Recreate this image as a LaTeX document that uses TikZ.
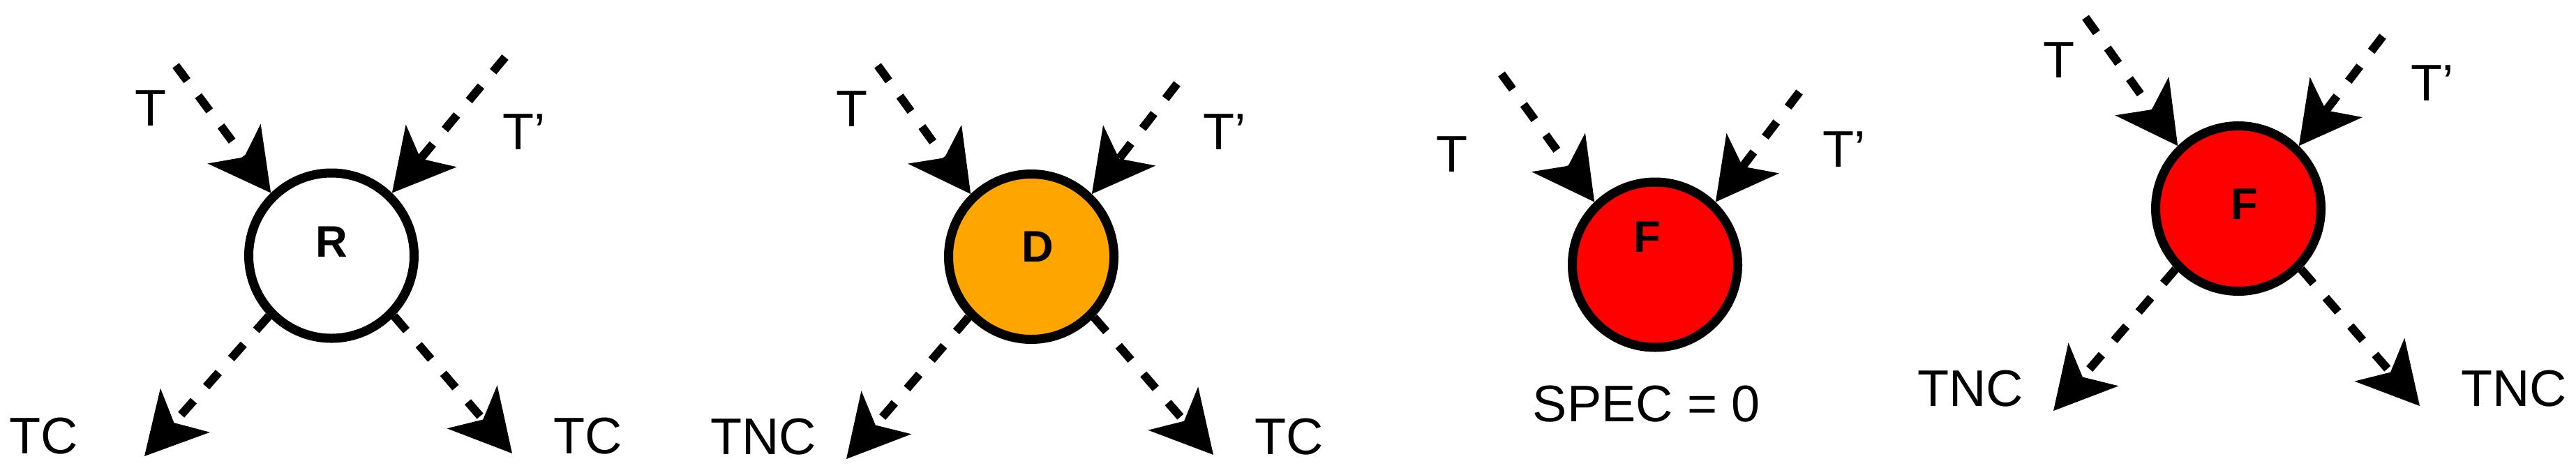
\documentclass[tikz,border=0pt]{standalone}
\usepackage{fontspec}
\setmainfont{Liberation Sans}
\usepackage{tikz}
\usetikzlibrary{arrows.meta}
\definecolor{dorange}{RGB}{255,165,0}
\definecolor{fred}{RGB}{255,0,0}

\begin{document}
\begin{tikzpicture}
			\tikzstyle{every node}=[font=\fontsize{21}{25}\selectfont]
			\tikzstyle{vertex}=[circle, draw=black, line width=0.13cm, minimum size=2.37cm, inner sep=0pt]
			\tikzstyle{letter}=[anchor=base, inner sep=0pt, font=\bfseries\fontsize{18}{22}\selectfont]
			\tikzstyle{lab}=[anchor=base, inner sep=0pt]
			\tikzstyle{flow}=[line width=0.12cm, dash pattern=on 0.27cm off 0.27cm, -{Stealth[length=0.88cm, width=0.95cm, inset=0.24cm, line width=0pt]}]
			\useasboundingbox (0,0) rectangle (36.92,6.8);
			
			% R
			\node[vertex, fill=white] (R) at (4.75,3.135) {};
			\node[letter] (lR) at (4.75,3.12) {R};
			\coordinate (inR) at (2.52,5.86);
			\coordinate (inpR) at (7.24,5.98);
			\coordinate (outlR) at (2.07,0.26);
			\coordinate (outrR) at (7.34,0.30);
			\draw [flow] (inR) -- (R.134);
			\draw [flow] (inpR) -- (R.46);
			\draw [flow] (R.224) -- (outlR);
			\draw [flow] (R.316) -- (outrR);
			\node[lab] (tR) at (2.16,5.00) {T};
			\node[lab] (tpR) at (7.51,4.66) {T’};
			\node[lab] (tclR) at (0.63,0.30) {TC};
			\node[lab] (tcrR) at (8.43,0.30) {TC};
			
			% D
			\node[vertex, fill=dorange] (D) at (14.78,3.12) {};
			\node[letter] (lD) at (14.87,3.05) {D};
			\coordinate (inD) at (12.58,5.86);
			\coordinate (inpD) at (16.87,5.60);
			\coordinate (outlD) at (12.13,0.22);
			\coordinate (outrD) at (17.39,0.28);
			\draw [flow] (inD) -- (D.134);
			\draw [flow] (inpD) -- (D.46);
			\draw [flow] (D.224) -- (outlD);
			\draw [flow] (D.316) -- (outrD);
			\node[lab] (tD) at (12.21,4.99) {T};
			\node[lab] (tpD) at (17.55,4.66) {T’};
			\node[lab] (tnclD) at (10.94,0.29) {TNC};
			\node[lab] (tcrD) at (18.48,0.29) {TC};
			
			% F, SPEC = 0
			\node[vertex, fill=fred] (F) at (23.72,3.005) {};
			\node[letter] (lF) at (23.61,3.19) {F};
			\coordinate (inF) at (21.52,5.74);
			\coordinate (inpF) at (25.79,5.48);
			\draw [flow] (inF) -- (F.134);
			\draw [flow] (inpF) -- (F.46);
			\node[lab] (tF) at (20.81,4.34) {T};
			\node[lab] (tpF) at (26.43,4.41) {T’};
			\node[lab] (spec) at (23.60,0.76) {SPEC = 0};
			
			% F
			\node[vertex, fill=fred] (Fb) at (32.08,3.81) {};
			\node[letter] (lFb) at (32.17,3.66) {F};
			\coordinate (inFb) at (29.89,6.55);
			\coordinate (inpFb) at (34.15,6.28);
			\coordinate (outlFb) at (29.43,0.91);
			\coordinate (outrFb) at (34.68,0.98);
			\draw [flow] (inFb) -- (Fb.134);
			\draw [flow] (inpFb) -- (Fb.46);
			\draw [flow] (Fb.224) -- (outlFb);
			\draw [flow] (Fb.316) -- (outrFb);
			\node[lab] (tFb) at (29.51,5.69) {T};
			\node[lab] (tpFb) at (34.86,5.36) {T’};
			\node[lab] (tnclFb) at (28.24,0.98) {TNC};
			\node[lab] (tncrFb) at (36.03,0.98) {TNC};
			
\end{tikzpicture}
\end{document}
